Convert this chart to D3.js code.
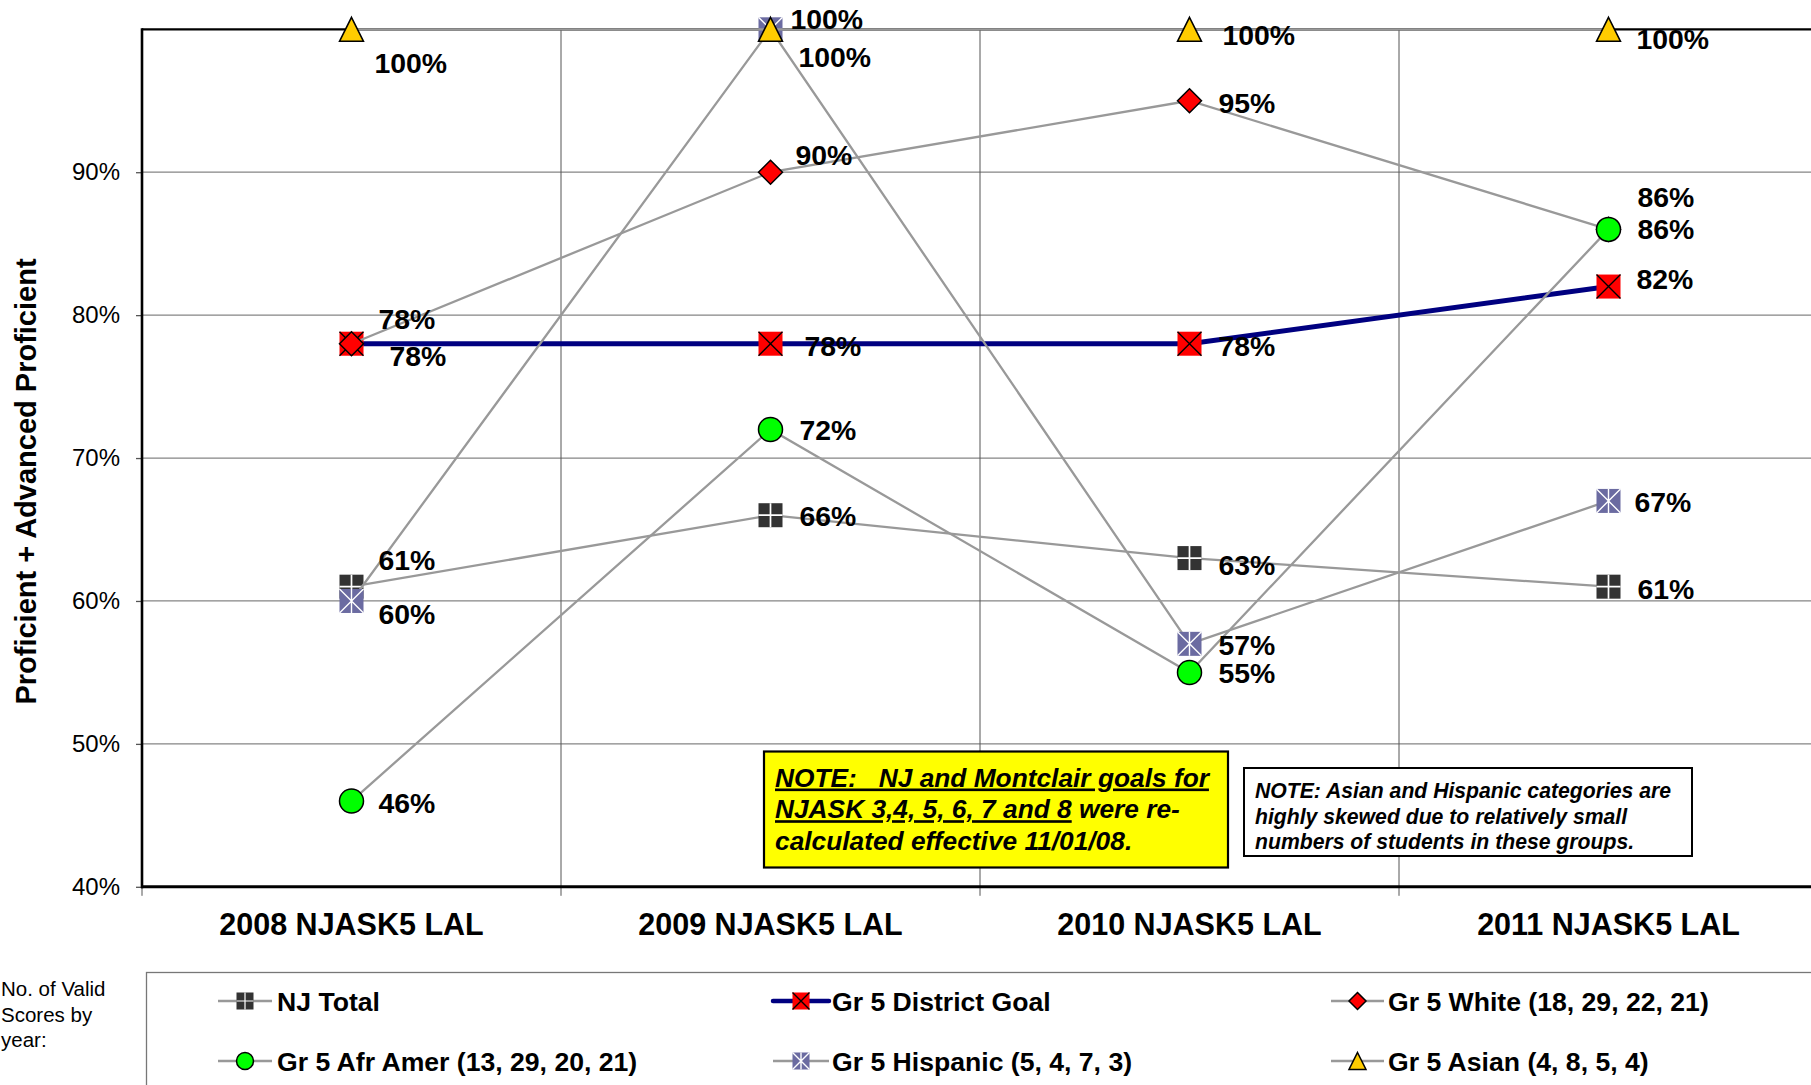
<!DOCTYPE html>
<html><head><meta charset="utf-8">
<script src="https://cdn.jsdelivr.net/npm/d3@7"></script>
<style>
body{margin:0;background:#fff;}
svg{display:block;font-family:"Liberation Sans",Arial,sans-serif;}
</style>
</head><body>
<svg id="chart" width="1811" height="1085"></svg>
<script>
// ---------------- data ----------------
const categories = ["2008 NJASK5 LAL", "2009 NJASK5 LAL", "2010 NJASK5 LAL", "2011 NJASK5 LAL"];
const yTickValues = [40, 50, 60, 70, 80, 90];
const njTotal      = [61, 66, 63, 61];
const districtGoal = [78, 78, 78, 82];
const grWhite      = [78, 90, 95, 86];
const grAfrAmer    = [46, 72, 55, 86];
const grHispanic   = [60, 100, 57, 67];
const grAsian      = [100, 100, 100, 100];
const seriesNames = ["NJ Total", "Gr 5 District Goal", "Gr 5 White (18, 29, 22, 21)",
  "Gr 5 Afr Amer (13, 29, 20, 21)", "Gr 5 Hispanic (5, 4, 7, 3)", "Gr 5 Asian (4, 8, 5, 4)"];
const yTitle = "Proficient + Advanced Proficient";
const note1Lines = [[["NOTE:   NJ and Montclair goals for", true]],
                    [["NJASK 3,4, 5, 6, 7 and 8", true], [" were re-", false]],
                    [["calculated effective 11/01/08", false], [".", false]]];
const note2Lines = ["NOTE: Asian and Hispanic categories are",
                    "highly skewed due to relatively small",
                    "numbers of students in these groups."];
const validScoresText = ["No. of Valid", "Scores by", "year:"];

// ---------------- layout / style (not data) ----------------
const labelOffsets = [
  [[27,-27],[29,1],[29,7],[29,2]],
  [[38,12.5],[34,2],[29,2],[28,-8]],
  [[27,-25],[25,-17],[29,2],[29,-32]],
  [[27,2],[29,1],[29,1],[29,0]],
  [[27,13],[20,-10],[29,1],[26,1]],
  [[23,34],[28,28],[33,6],[28,9.5]]
];
const styles = [
  {marker:"plus",   line:"#999999", lw:2.3},
  {marker:"goal",   line:"#000080", lw:5},
  {marker:"diamond",line:"#999999", lw:2.3},
  {marker:"circle", line:"#999999", lw:2.3},
  {marker:"hisp",   line:"#999999", lw:2.3},
  {marker:"tri",    line:"#999999", lw:2.3}
];
const allSeries = [njTotal, districtGoal, grWhite, grAfrAmer, grHispanic, grAsian];

const svg = d3.select("#chart");
const L = 142, R = 1818, T = 29.3, B = 886.8;

const xBand = d3.scaleBand().domain(categories).range([L, R]).paddingInner(0).paddingOuter(0);
const xc = c => xBand(c) + xBand.bandwidth() / 2;
const y = d3.scaleLinear().domain([40, 100]).range([B, T]);

// horizontal gridlines
svg.append("g").selectAll("line").data(yTickValues.filter(v => v > 40)).join("line")
  .attr("x1", L).attr("x2", R).attr("y1", d => y(d)).attr("y2", d => y(d))
  .attr("stroke", "#858585").attr("stroke-width", 1.3);
// vertical gridlines at band boundaries (with ticks below axis)
const bounds = categories.map(c => xBand(c));
svg.append("g").selectAll("line").data(bounds).join("line")
  .attr("x1", d => d).attr("x2", d => d).attr("y1", T).attr("y2", B + 9)
  .attr("stroke", "#555").attr("stroke-width", 1);

// y axis
const yAxis = svg.append("g").attr("transform", `translate(${L},0)`)
  .call(d3.axisLeft(y).tickValues(yTickValues).tickSize(6).tickPadding(16).tickFormat(d => d + "%"));
yAxis.select(".domain").remove();
yAxis.selectAll(".tick line").attr("stroke", "#555").attr("stroke-width", 1.3);
yAxis.selectAll(".tick text").attr("font-size", 24).attr("fill", "#000")
  .attr("font-family", "'Liberation Sans', Arial, sans-serif");

// x axis labels
const xAxis = svg.append("g").attr("transform", `translate(0,${B})`)
  .call(d3.axisBottom(xBand).tickSize(0));
xAxis.select(".domain").remove();
xAxis.selectAll(".tick text").attr("y", 48).attr("dy", 0).attr("font-size", 30.5)
  .attr("font-weight", "bold").attr("fill", "#000")
  .attr("font-family", "'Liberation Sans', Arial, sans-serif");

// plot borders
svg.append("line").attr("x1", L).attr("x2", R).attr("y1", T).attr("y2", T).attr("stroke", "#000").attr("stroke-width", 2.3);
svg.append("line").attr("x1", L).attr("x2", L).attr("y1", T - 1).attr("y2", B + 1.5).attr("stroke", "#000").attr("stroke-width", 2.6);
svg.append("line").attr("x1", L - 1).attr("x2", R).attr("y1", B).attr("y2", B).attr("stroke", "#000").attr("stroke-width", 3);

// y title
svg.append("text").attr("transform", `translate(36,481.5) rotate(-90)`)
  .attr("text-anchor", "middle").attr("font-size", 29).attr("font-weight", "bold").text(yTitle);

// notes
const n1 = svg.append("g");
n1.append("rect").attr("x", 764).attr("y", 751.5).attr("width", 464).attr("height", 116)
  .attr("fill", "#FFFF00").attr("stroke", "#000").attr("stroke-width", 2.2);
note1Lines.forEach((parts, i) => {
  const t = n1.append("text").attr("x", 775).attr("y", 786.5 + i * 31.7)
    .attr("font-size", 26.3).attr("font-weight", "bold").attr("font-style", "italic")
    .style("white-space", "pre");
  parts.forEach(p => t.append("tspan").text(p[0]).style("text-decoration", p[1] ? "underline" : "none"));
});
const n2 = svg.append("g");
n2.append("rect").attr("x", 1244).attr("y", 768).attr("width", 448).attr("height", 88)
  .attr("fill", "#fff").attr("stroke", "#000").attr("stroke-width", 2);
note2Lines.forEach((s, i) => {
  n2.append("text").attr("x", 1255).attr("y", 798.3 + i * 25.5).attr("font-size", 21.2)
    .attr("font-weight", "bold").attr("font-style", "italic").text(s);
});

// marker drawing
function marker(g, type, s) {
  const h = s / 2;
  if (type === "plus") {
    g.append("rect").attr("x", -h).attr("y", -h).attr("width", s).attr("height", s).attr("fill", "#333");
    g.append("path").attr("d", `M0,${-h}V${h}M${-h},0H${h}`).attr("stroke", "#fff").attr("stroke-width", s / 14);
  } else if (type === "goal") {
    g.append("rect").attr("x", -h).attr("y", -h).attr("width", s).attr("height", s).attr("fill", "#FF0000");
    g.append("path").attr("d", `M${-h},${-h}L${h},${h}M${h},${-h}L${-h},${h}`).attr("stroke", "#000").attr("stroke-width", 1.4);
  } else if (type === "diamond") {
    g.append("path").attr("d", `M0,${-h}L${h},0L0,${h}L${-h},0Z`).attr("fill", "#FF0000")
      .attr("stroke", "#000").attr("stroke-width", 1.5);
  } else if (type === "circle") {
    g.append("circle").attr("r", h).attr("fill", "#00FF00").attr("stroke", "#000").attr("stroke-width", 1.5);
  } else if (type === "hisp") {
    g.append("rect").attr("x", -h).attr("y", -h).attr("width", s).attr("height", s).attr("fill", "#6B6BA1");
    g.append("path").attr("d", `M${-h},${-h}L${h},${h}M${h},${-h}L${-h},${h}M0,${-h}V${h}`)
      .attr("stroke", "#fff").attr("stroke-width", 1.4);
  } else if (type === "tri") {
    g.append("path").attr("d", `M0,${-h}L${h},${h}L${-h},${h}Z`).attr("fill", "#FFCC00")
      .attr("stroke", "#000").attr("stroke-width", 1.5).attr("stroke-linejoin", "miter");
  }
}

// series
const lineGen = d3.line().x((d, i) => xc(categories[i])).y(d => y(d));
allSeries.forEach((vals, si) => {
  const st = styles[si];
  const g = svg.append("g");
  g.append("path").datum(vals).attr("d", lineGen).attr("fill", "none")
    .attr("stroke", st.line).attr("stroke-width", st.lw);
  vals.forEach((v, i) => {
    const m = g.append("g").attr("transform", `translate(${xc(categories[i])},${y(v)})`);
    marker(m, st.marker, 24);
  });
});
// data labels on top
allSeries.forEach((vals, si) => {
  svg.append("g").selectAll("text").data(vals).join("text")
    .attr("x", (d, i) => xc(categories[i]) + labelOffsets[si][i][0])
    .attr("y", (d, i) => y(d) + labelOffsets[si][i][1] + 10)
    .attr("font-size", 28.4).attr("font-weight", "bold").text(d => d + "%");
});

// legend
svg.append("rect").attr("x", 146.5).attr("y", 972.5).attr("width", 1700).attr("height", 200)
  .attr("fill", "none").attr("stroke", "#777").attr("stroke-width", 1.3);
const legCols = [{x1: 218, x2: 272, tx: 277}, {x1: 773, x2: 829, tx: 832}, {x1: 1331, x2: 1384, tx: 1388}];
const legRows = [1001, 1061];
seriesNames.forEach((name, si) => {
  const col = legCols[si % 3], row = legRows[Math.floor(si / 3)];
  const st = styles[si];
  const g = svg.append("g");
  g.append("line").attr("x1", col.x1).attr("x2", col.x2).attr("y1", row).attr("y2", row)
    .attr("stroke", st.line).attr("stroke-width", si === 1 ? 4.5 : 2.6).attr("stroke-linecap", si === 1 ? "round" : "butt");
  const m = g.append("g").attr("transform", `translate(${(col.x1 + col.x2) / 2},${row})`);
  marker(m, st.marker, 17);
  g.append("text").attr("x", col.tx).attr("y", row + 9.5).attr("font-size", 26.6).attr("font-weight", "bold").text(name);
});

// "No. of Valid Scores by year:"
validScoresText.forEach((s, i) => {
  svg.append("text").attr("x", 1).attr("y", 996 + i * 25.6).attr("font-size", 20.5).attr("fill", "#000").text(s);
});
</script>
</body></html>
